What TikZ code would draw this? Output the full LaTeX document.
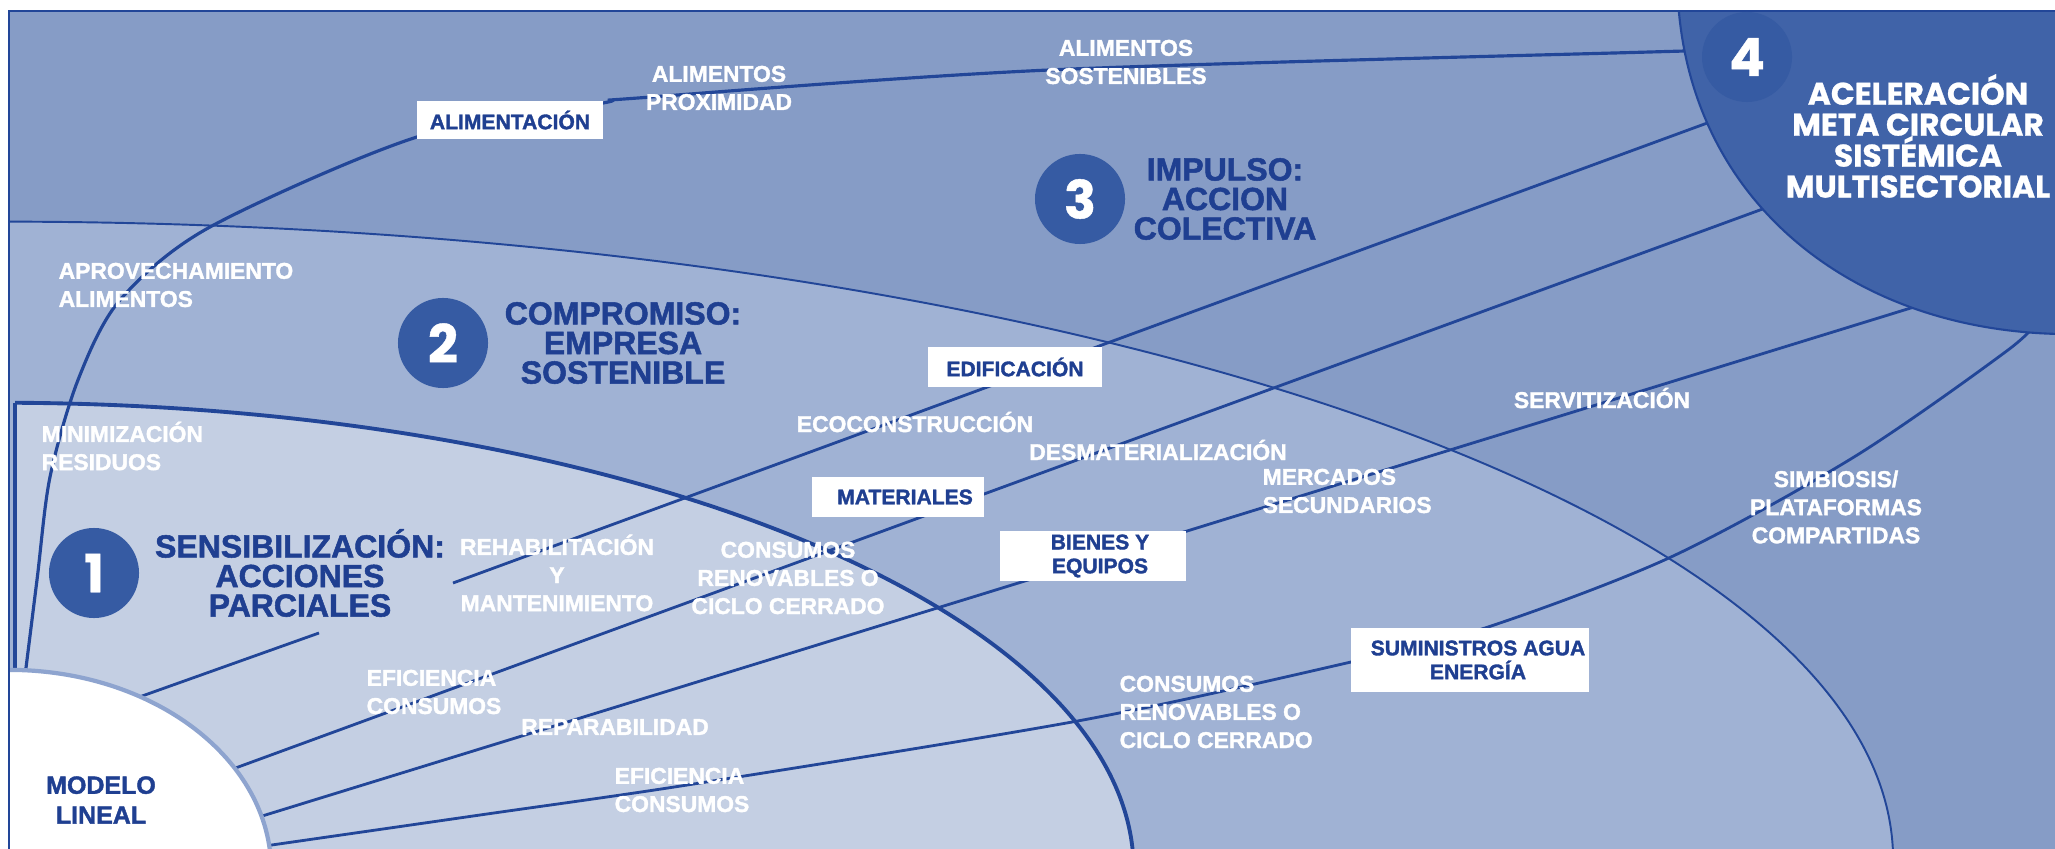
\documentclass[tikz,border=0pt]{standalone}
\usepackage{fontspec}
\setmainfont{Liberation Sans}[BoldFeatures={FakeBold=1.6}]
\newfontfamily\popfont{Poppins}[BoldFeatures={FakeBold=0.8}]
\definecolor{cthree}{HTML}{869CC6}
\definecolor{ctwo}{HTML}{A0B2D4}
\definecolor{cone}{HTML}{C4CFE3}
\definecolor{cfour}{HTML}{4063A8}
\definecolor{cbadge}{HTML}{365BA3}
\definecolor{cline}{HTML}{224698}
\definecolor{cnavy}{HTML}{1F3F91}
\definecolor{cmod}{HTML}{8EA4CF}
\tikzset{
  lbl/.style={text=white, font=\bfseries\fontsize{6.5}{8}\selectfont, inner sep=0pt, align=center},
  lbll/.style={lbl, align=left, anchor=west},
  boxlbl/.style={fill=white, text=cnavy, font=\bfseries\fontsize{6}{6.8}\selectfont, align=center, inner sep=0pt},
  ttl/.style={text=cnavy, font=\bfseries\fontsize{9.1}{8.4}\selectfont, align=center, inner sep=0pt},
  badge/.style={circle, fill=cbadge, minimum size=0.9cm, inner sep=0pt, text=white, font=\popfont\bfseries\fontsize{15}{15}\selectfont},
  ray/.style={draw=cline, line width=0.8pt},
}
\begin{document}
\begin{tikzpicture}[x=0.01cm,y=-0.01cm]
\useasboundingbox (0,0) rectangle (2055,849);
\fill[white] (0,0) rectangle (2055,849);
\begin{scope}
  \clip (9,11) rectangle (2100,900);
  \fill[cthree] (9,11) rectangle (2100,900);
  % stage 2
  \fill[ctwo] (0,860) ellipse [x radius=18.92cm, y radius=6.38cm];
  \draw[cline, line width=0.55pt] (0,860) ellipse [x radius=18.92cm, y radius=6.38cm];
  % stage 1
  \begin{scope}
    \clip (15,0) rectangle (2100,900);
    \fill[cone] (0,870) ellipse [x radius=11.33cm, y radius=4.67cm];
    \draw[cline, line width=1.1pt] (0,870) ellipse [x radius=11.33cm, y radius=4.67cm];
  \end{scope}
  \draw[cline, line width=1.1pt] (15,403) -- (15,900);
  % ray coordinates
  \coordinate (a0) at (100,711);
  \coordinate (a1) at (319,633);
  \coordinate (a2) at (453,583);
  \coordinate (a3) at (1740,111);
  \coordinate (b0) at (200,781);
  \coordinate (b1) at (1790,199);
  \coordinate (c0) at (220,829);
  \coordinate (c1) at (1940,299);
  \draw[ray] (a0) -- (a1);
  \draw[ray] (a2) -- (a3);
  \draw[ray] (b0) -- (b1);
  \draw[ray] (c0) -- (c1);
  \draw[ray] plot[smooth] coordinates {(230,851) (480,815) (700,783) (1083,720) (1351,662) (1488,627) (1671,557) (1854,457) (2008,350) (2040,318)};
  % food curve
  \draw[cline, line width=0.9pt] plot[smooth] coordinates {(22,700) (37,580) (50,477) (78,380) (120,300) (210,227) (417,137) (603,103) (638,98) (1049,70) (1650,52) (1700,51)};
  % stage 4
  \fill[cfour] (1678,0) .. controls (1690,200) and (1850,330) .. (2060,334) -- (2100,334) -- (2100,0) -- cycle;
  \draw[cline, line width=0.6pt] (1678,0) .. controls (1690,200) and (1850,330) .. (2060,334) -- (2100,334);
  % linear model
  \fill[white] (9,870) ellipse [x radius=2.62cm, y radius=2cm];
  \draw[cmod, line width=1.2pt] (9,870) ellipse [x radius=2.62cm, y radius=2cm];
\end{scope}
\draw[cline, line width=0.6pt] (9,11) rectangle (2100,900);

% badges and titles
\node[badge] (n1) at (94,573) {1};
\node[badge] (n2) at (443,343) {2};
\node[badge] (n3) at (1080,199) {3};
\node[badge] (n4) at (1747,57) {4};
\node[ttl] (t1) at (300,573) {SENSIBILIZACIÓN:\\ACCIONES\\PARCIALES};
\node[ttl] (t2) at (623,343) {COMPROMISO:\\EMPRESA\\SOSTENIBLE};
\node[ttl] (t3) at (1225,199) {IMPULSO:\\ACCION\\COLECTIVA};
\node[text=white, font=\popfont\bfseries\fontsize{8.9}{8.8}\selectfont, align=center, inner sep=0pt] (t4) at (1918,136) {ACELERACIÓN\\META CIRCULAR\\SISTÉMICA\\MULTISECTORIAL};
\node[text=cnavy, font=\bfseries\fontsize{7.1}{8.5}\selectfont, align=center, inner sep=0pt] (ml) at (101,800) {MODELO\\LINEAL};

% white boxes
\node[boxlbl, minimum width=1.86cm, minimum height=0.37cm] (bx1) at (510,120) {ALIMENTACIÓN};
\node[boxlbl, minimum width=1.73cm, minimum height=0.40cm] (bx2) at (1015,367) {EDIFICACIÓN};
\node[boxlbl, minimum width=1.72cm, minimum height=0.39cm] (bx3) at (898,497) {\hspace*{0.14cm}MATERIALES};
\node[boxlbl, minimum width=1.86cm, minimum height=0.50cm] (bx4) at (1093,556) {\hspace*{0.14cm}BIENES Y\\\hspace*{0.14cm}EQUIPOS};
\node[boxlbl, minimum width=2.37cm, minimum height=0.63cm] (bx5) at (1470,660) {\hspace*{0.16cm}SUMINISTROS AGUA\\\hspace*{0.16cm}ENERGÍA};

% white labels
\node[lbl] (l1) at (719,88) {ALIMENTOS\\PROXIMIDAD};
\node[lbl] (l2) at (1126,62) {ALIMENTOS\\SOSTENIBLES};
\node[lbll] (l3) at (58,285) {APROVECHAMIENTO\\ALIMENTOS};
\node[lbll] (l4) at (41,446) {MINIMIZACIÓN\\RESIDUOS};
\node[lbl] (l5) at (557,573) {REHABILITACIÓN\\Y\\MANTENIMIENTO};
\node[lbl] (l6) at (788,578) {CONSUMOS\\RENOVABLES O\\CICLO CERRADO};
\node[lbll] (l7) at (366,692) {EFICIENCIA\\CONSUMOS};
\node[lbl] (l8) at (615,727) {REPARABILIDAD};
\node[lbll] (l9) at (614,790) {EFICIENCIA\\CONSUMOS};
\node[lbll] (l10) at (1119,712) {CONSUMOS\\RENOVABLES O\\CICLO CERRADO};
\node[lbl] (l11) at (915,422) {ECOCONSTRUCCIÓN};
\node[lbl] (l12) at (1158,450) {DESMATERIALIZACIÓN};
\node[lbll] (l13) at (1262,491) {MERCADOS\\SECUNDARIOS};
\node[lbl] (l14) at (1602,398) {SERVITIZACIÓN};
\node[lbl] (l15) at (1836,507) {SIMBIOSIS/\\PLATAFORMAS\\COMPARTIDAS};
\end{tikzpicture}
\end{document}
